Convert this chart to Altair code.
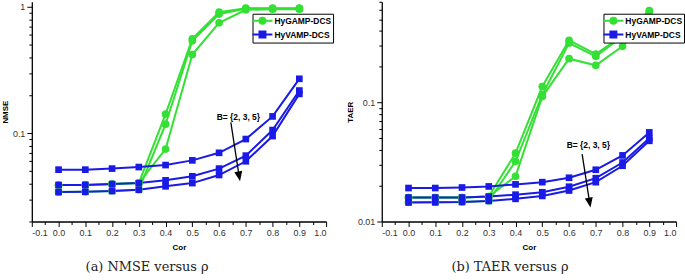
import altair as alt
import pandas as pd

# ---------------- data ----------------
cor = [0.0, 0.1, 0.2, 0.3, 0.4, 0.5, 0.6, 0.7, 0.8, 0.9]
methods = ["HyGAMP-DCS", "HyVAMP-DCS"]
colors = ["#33e033", "#1a1ae6"]
b_sets = ["B=2", "B=3", "B=5"]

nmse_hygamp_b2 = [0.0389, 0.0390, 0.0396, 0.0403, 0.142, 0.56, 0.91, 0.98, 0.98, 0.98]
nmse_hygamp_b3 = [0.0342, 0.0344, 0.0349, 0.0357, 0.118, 0.54, 0.88, 0.97, 0.97, 0.97]
nmse_hygamp_b5 = [0.0389, 0.0390, 0.0396, 0.0403, 0.075, 0.42, 0.75, 0.95, 0.96, 0.96]
nmse_hyvamp_b2 = [0.0515, 0.0515, 0.0525, 0.0540, 0.0560, 0.0610, 0.0700, 0.0900, 0.136, 0.270]
nmse_hyvamp_b3 = [0.0389, 0.0390, 0.0396, 0.0403, 0.0424, 0.0456, 0.0525, 0.0665, 0.106, 0.218]
nmse_hyvamp_b5 = [0.0342, 0.0344, 0.0349, 0.0357, 0.0380, 0.0403, 0.0467, 0.0600, 0.095, 0.205]

taer_hygamp_b2 = [0.0159, 0.0159, 0.0159, 0.0162, 0.0375, 0.136, 0.332, 0.255, 0.363, 0.59]
taer_hygamp_b3 = [0.0145, 0.0145, 0.0146, 0.0149, 0.0320, 0.116, 0.315, 0.244, 0.360, 0.58]
taer_hygamp_b5 = [0.0159, 0.0159, 0.0159, 0.0162, 0.0240, 0.112, 0.233, 0.205, 0.296, 0.52]
taer_hyvamp_b2 = [0.0191, 0.0191, 0.0193, 0.0197, 0.0205, 0.0214, 0.0233, 0.0272, 0.0359, 0.0560]
taer_hyvamp_b3 = [0.0159, 0.0159, 0.0159, 0.0162, 0.0168, 0.0176, 0.0196, 0.0231, 0.0313, 0.0500]
taer_hyvamp_b5 = [0.01445, 0.0145, 0.0146, 0.0149, 0.0155, 0.0164, 0.0182, 0.0214, 0.0294, 0.0476]

x_ticks = [-0.1, 0.0, 0.1, 0.2, 0.3, 0.4, 0.5, 0.6, 0.7, 0.8, 0.9, 1.0]
x_minor = [-0.05, 0.05, 0.15, 0.25, 0.35, 0.45, 0.55, 0.65, 0.75, 0.85, 0.95]
nmse_ticks = [0.1, 1]
nmse_minor = [0.02, 0.03, 0.04, 0.05, 0.06, 0.07, 0.08, 0.09,
              0.2, 0.3, 0.4, 0.5, 0.6, 0.7, 0.8, 0.9]
taer_ticks = [0.01, 0.1]
taer_minor = [0.02, 0.03, 0.04, 0.05, 0.06, 0.07, 0.08, 0.09,
              0.2, 0.3, 0.4, 0.5, 0.6, 0.7]

ann_label = ["B= {2, 3, 5}"]
# annotation text anchor, arrow start, arrow head (data coordinates)
nmse_text_xy = [0.591, 0.1347]
nmse_arrow_start = [0.644, 0.122]
nmse_arrow_head = [0.675, 0.0455]
taer_text_xy = [0.591, 0.0435]
taer_arrow_start = [0.649, 0.0368]
taer_arrow_head = [0.677, 0.0144]

# ---------------- helpers ----------------
CIRCLE_LEG = "M-2,0L2,0M-0.6,0A0.6,0.6,0,1,1,0.6,0A0.6,0.6,0,1,1,-0.6,0Z"
SQUARE_LEG = "M-2,0L2,0M-0.6,-0.6L0.6,-0.6L0.6,0.6L-0.6,0.6Z"
ARROW_HEAD = "M0,1L-0.8,-1L0.8,-1Z"
X_LABEL_EXPR = "replace(format(datum.value, '.1f'), '\u2212', '-')"


def long_df(gamp, vamp):
    rows = []
    for m, series in zip(methods, [gamp, vamp]):
        for b, vals in zip(b_sets, series):
            for c, v in zip(cor, vals):
                rows.append({"method": m, "series": m + " " + b, "cor": c, "val": v})
    return pd.DataFrame(rows)


def panel(df, ydomain, yticks, yminor, ytitle, text_xy, a_start, a_head,
          legend_x, caption, caption_dx):
    xs = alt.Scale(domain=[-0.1, 1.0], nice=False, zero=False)
    ys = alt.Scale(type="log", domain=ydomain, nice=False)
    cs = alt.Scale(domain=methods, range=colors)

    x_major = alt.Axis(values=x_ticks, labelExpr=X_LABEL_EXPR, orient="bottom", tickSize=5,
                       title="Cor", labelPadding=2, titlePadding=6)
    y_major = alt.Axis(values=yticks, format="~g", orient="left", tickSize=5,
                       title=ytitle, labelPadding=2, titlePadding=3)
    x_min = alt.Axis(values=x_minor, orient="bottom", tickSize=3, labels=False,
                     domain=False, title=None)
    y_min = alt.Axis(values=yminor, orient="left", tickSize=3, labels=False,
                     domain=False, title=None)

    legend = alt.Legend(
        orient="none", legendX=legend_x, legendY=12, title=None,
        symbolSize=100, symbolOffset=3, labelOffset=6, padding=1,
        rowPadding=0, strokeColor="black", fillColor="white",
        symbolStrokeWidth=2, symbolOpacity=1,
        labelFont="Liberation Sans", labelFontWeight="bold", labelFontSize=8.5,
        labelColor="black",
    )

    base = alt.Chart(df)
    lines = base.mark_line(strokeWidth=2).encode(
        x=alt.X("cor:Q", scale=xs, axis=x_major),
        y=alt.Y("val:Q", scale=ys, axis=y_major),
        color=alt.Color("method:N", scale=cs, legend=None),
        detail="series:N",
    )
    pts_g = base.transform_filter(alt.datum.method == methods[0]).mark_point(
        filled=True, opacity=1, shape="circle", size=60).encode(
        x=alt.X("cor:Q", scale=xs, axis=None),
        y=alt.Y("val:Q", scale=ys, axis=None),
        color=alt.Color("method:N", scale=cs, legend=None),
    )
    pts_v = base.transform_filter(alt.datum.method == methods[1]).mark_point(
        filled=True, opacity=1, shape="square", size=45).encode(
        x=alt.X("cor:Q", scale=xs, axis=None),
        y=alt.Y("val:Q", scale=ys, axis=None),
        color=alt.Color("method:N", scale=cs, legend=None),
    )
    # legend-only layer (no rows survive the filter; the legend comes from the scales)
    leg = base.transform_filter(alt.datum.cor < -5).mark_point(filled=True).encode(
        x=alt.X("cor:Q", scale=xs, axis=None),
        y=alt.Y("val:Q", scale=ys, axis=None),
        shape=alt.Shape("method:N", scale=alt.Scale(domain=methods, range=[CIRCLE_LEG, SQUARE_LEG]),
                        legend=legend),
        fill=alt.Fill("method:N", scale=alt.Scale(domain=methods, range=colors), legend=legend),
        stroke=alt.Stroke("method:N", scale=alt.Scale(domain=methods, range=colors), legend=legend),
    )
    tdf = pd.DataFrame({"tx": [text_xy[0]], "ty": [text_xy[1]], "label": ann_label})
    text = alt.Chart(tdf).mark_text(
        align="left", baseline="middle", font="Liberation Sans",
        fontWeight="bold", fontSize=8.5, color="black").encode(
        x=alt.X("tx:Q", scale=xs, axis=None),
        y=alt.Y("ty:Q", scale=ys, axis=None),
        text="label:N",
    )
    adf = pd.DataFrame({"ax": [a_start[0]], "ay": [a_start[1]],
                        "hx": [a_head[0]], "hy": [a_head[1]]})
    rule = alt.Chart(adf).mark_rule(color="black", strokeWidth=1.3).encode(
        x=alt.X("ax:Q", scale=xs, axis=None),
        y=alt.Y("ay:Q", scale=ys, axis=None),
        x2="hx:Q", y2="hy:Q",
    )
    head = alt.Chart(adf).mark_point(
        shape=ARROW_HEAD, filled=True, color="black", opacity=1,
        size=100, angle=350).encode(
        x=alt.X("hx:Q", scale=xs, axis=x_min),
        y=alt.Y("hy:Q", scale=ys, axis=y_min),
    )
    return alt.layer(lines, pts_g, pts_v, text, rule, head, leg).resolve_axis(
        x="independent", y="independent"
    ).properties(
        width=296, height=221,
        title=alt.TitleParams(caption, orient="bottom", anchor="middle",
                              font="DejaVu Serif", fontSize=13, fontWeight="normal",
                              color="#222222", dx=caption_dx, offset=10),
    )


nmse_df = long_df([nmse_hygamp_b2, nmse_hygamp_b3, nmse_hygamp_b5],
                  [nmse_hyvamp_b2, nmse_hyvamp_b3, nmse_hyvamp_b5])
taer_df = long_df([taer_hygamp_b2, taer_hygamp_b3, taer_hygamp_b5],
                  [taer_hyvamp_b2, taer_hyvamp_b3, taer_hyvamp_b5])

left = panel(nmse_df, [0.02, 1.1], nmse_ticks, nmse_minor, "NMSE",
             nmse_text_xy, nmse_arrow_start, nmse_arrow_head, 222,
             "(a)  NMSE versus ρ", -32)
right = panel(taer_df, [0.01, 0.7], taer_ticks, taer_minor, "TAER",
              taer_text_xy, taer_arrow_start, taer_arrow_head, 223,
              "(b)  TAER versus ρ", -19)

chart = alt.hconcat(left, right, spacing=12).resolve_scale(
    shape="independent", fill="independent", stroke="independent"
).properties(
    padding={"left": 1, "top": 0, "right": 0, "bottom": 0},
    background="white",
).configure_view(stroke=None).configure_axis(
    grid=False, domainColor="black", domainWidth=1.3, tickColor="black",
    tickWidth=1, labelColor="#333333", labelFont="Liberation Sans",
    labelFontSize=9, titleFont="Liberation Sans", titleFontSize=8,
    titleFontWeight="bold", titleColor="black",
)

chart.save("out.html", embed_options={"renderer": "svg", "actions": False})
